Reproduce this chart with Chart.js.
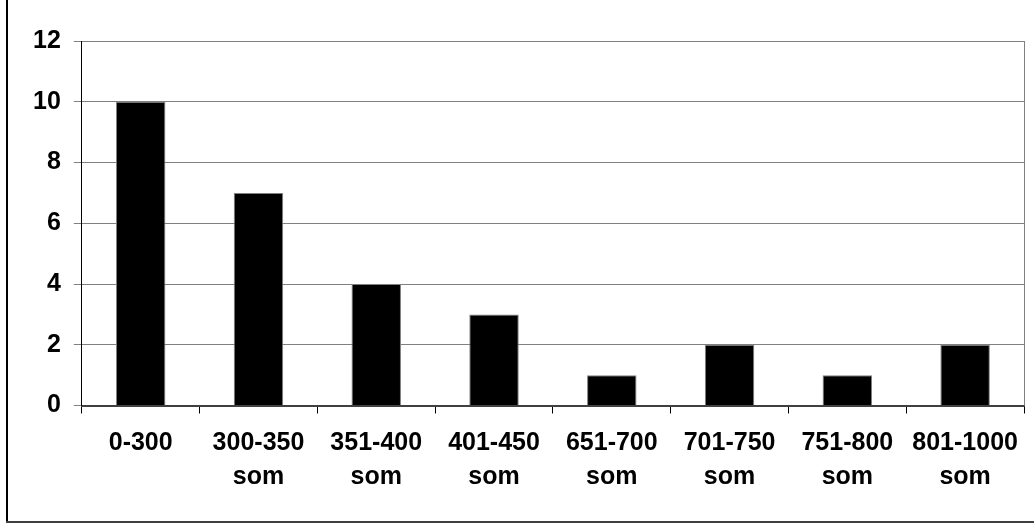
<!DOCTYPE html>
<html>
<head>
<meta charset="utf-8">
<script src="https://cdn.jsdelivr.net/npm/chart.js@4"></script>
<style>
  html, body { margin: 0; padding: 0; background: #fff; }
  #wrap { width: 1034px; height: 527px; }
</style>
</head>
<body>
<div id="wrap"><canvas id="chart" width="1034" height="527"></canvas></div>
<script>
    // Chart data
    const categories = [
      "0-300",
      ["300-350", "som"],
      ["351-400", "som"],
      ["401-450", "som"],
      ["651-700", "som"],
      ["701-750", "som"],
      ["751-800", "som"],
      ["801-1000", "som"]
    ];
    const counts = [10, 7, 4, 3, 1, 2, 1, 2];
    const yTicks = [0, 2, 4, 6, 8, 10, 12];

    const font = { family: "'Liberation Sans', Arial, sans-serif", size: 25, weight: 'bold', lineHeight: 1.35 };

    // Outer frame and right edge of plot area
    const framePlugin = {
      id: 'frame',
      afterDraw(chart) {
        const c = chart.ctx;
        const a = chart.chartArea;
        c.save();
        c.strokeStyle = '#808080';
        c.lineWidth = 1;
        c.beginPath();
        c.moveTo(Math.round(a.right) + 0.5, a.top);
        c.lineTo(Math.round(a.right) + 0.5, a.bottom);
        c.stroke();
        c.strokeStyle = '#000';
        c.lineWidth = 2;
        c.beginPath();
        c.moveTo(7, 0);
        c.lineTo(7, 522);
        c.stroke();
        c.strokeStyle = '#404040';
        c.beginPath();
        c.moveTo(6, 522);
        c.lineTo(1034, 522);
        c.stroke();
        c.restore();
      }
    };

    new Chart(document.getElementById('chart').getContext('2d'), {
      type: 'bar',
      data: {
        labels: categories,
        datasets: [{
          data: counts,
          backgroundColor: '#000',
          borderColor: '#808080',
          borderWidth: 1,
          barPercentage: 0.42,
          categoryPercentage: 1
        }]
      },
      options: {
        responsive: false,
        animation: false,
        layout: { padding: { left: 20, right: 10, top: 41, bottom: 20 } },
        plugins: { legend: { display: false }, tooltip: { enabled: false } },
        scales: {
          x: {
            offset: true,
            grid: { drawOnChartArea: false, drawTicks: true, tickLength: 8, color: '#000', offset: true },
            border: { color: '#404040', width: 2 },
            ticks: { color: '#000', font: font, padding: 13, maxRotation: 0, autoSkip: false }
          },
          y: {
            min: 0,
            max: 12,
            afterBuildTicks(scale) { scale.ticks = yTicks.map(v => ({ value: v })); },
            grid: { color: '#808080', tickLength: 8 },
            border: { color: '#000', width: 1 },
            ticks: { color: '#000', font: font, padding: 13 }
          }
        }
      },
      plugins: [framePlugin]
    });
</script>
</body>
</html>
